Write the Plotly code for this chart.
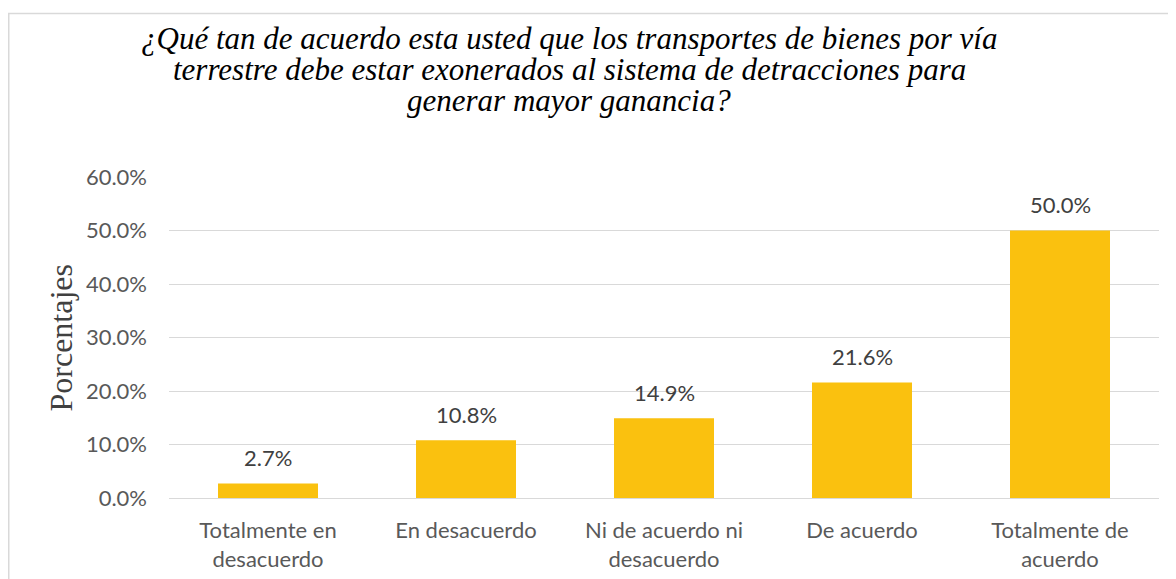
import plotly.graph_objects as go

categories = ["Totalmente en<br>desacuerdo", "En desacuerdo", "Ni de acuerdo ni<br>desacuerdo",
              "De acuerdo", "Totalmente de<br>acuerdo"]
values = [2.7, 10.8, 14.9, 21.6, 50.0]
tick_vals = [0, 10, 20, 30, 40, 50, 60]
tick_text = ["0.0%", "10.0%", "20.0%", "30.0%", "40.0%", "50.0%", "60.0%"]
title_lines = ["¿Qué tan de acuerdo esta usted que los transportes de bienes por vía",
               "terrestre debe estar exonerados al sistema de detracciones para",
               "generar mayor ganancia?"]
y_title = "Porcentajes"

# page body has an 8px margin, so the figure is drawn 8px in from the window corner
W, H = 1168, 571
ml, mr, mt, mb = 161, 17, 169, 81
pw, ph = W - ml - mr, H - mt - mb

SANS = "Lato, Liberation Sans, sans-serif"
SERIF = "Liberation Serif, Times New Roman, serif"

fig = go.Figure()
fig.add_trace(go.Bar(
    x=categories, y=values,
    marker=dict(color="#FAC10F", line=dict(width=0)),
    width=0.505,
    hoverinfo="skip",
))

annotations = []
for c, v in zip(categories, values):
    annotations.append(dict(
        x=c, y=v, xref="x", yref="y", text=f"{v:.1f}%", showarrow=False,
        xanchor="center", yanchor="middle", yshift=26,
        font=dict(family=SANS, size=22, color="#404040"),
    ))

# title lines, positioned in pixels from the top of the figure
title_y = [30, 61.5, 93]
for line, yy in zip(title_lines, title_y):
    annotations.append(dict(
        text=f"<i>{line}</i>",
        x=(561 - ml) / pw, y=1 + (mt - yy) / ph, xref="paper", yref="paper",
        xanchor="center", yanchor="middle", showarrow=False,
        font=dict(family=SERIF, size=31, color="#000000"),
    ))

annotations.append(dict(
    text=y_title, textangle=-90,
    x=(52 - ml) / pw, y=0.5, xref="paper", yref="paper",
    xanchor="center", yanchor="middle", showarrow=False,
    font=dict(family=SERIF, size=32, color="#404040"),
))

fig.update_layout(
    width=W, height=H,
    margin=dict(l=ml, r=mr, t=mt, b=mb, autoexpand=False),
    paper_bgcolor="white", plot_bgcolor="white",
    showlegend=False,
    xaxis=dict(
        showgrid=False, showline=False, zeroline=False, automargin=False,
        tickfont=dict(family=SANS, size=22, color="#595959"),
        ticks="", ticklabelstandoff=17,
    ),
    yaxis=dict(
        range=[0, 60], tickvals=tick_vals, ticktext=tick_text, automargin=False,
        showgrid=True, gridcolor="#D9D9D9", gridwidth=1.3,
        zeroline=True, zerolinecolor="#D9D9D9", zerolinewidth=1.3,
        showline=False, ticks="",
        tickfont=dict(family=SANS, size=22, color="#595959"),
        ticklabelstandoff=21,
    ),
    annotations=annotations,
    shapes=[dict(
        type="rect", xref="paper", yref="paper",
        x0=(0.75 - ml) / pw, x1=(W + 20 - ml) / pw,
        y0=-(mb + 20) / ph, y1=1 + (mt - 5.5) / ph,
        line=dict(color="#D9D9D9", width=1.5), fillcolor="rgba(0,0,0,0)", layer="below",
    )],
)

fig.write_html("out.html")
